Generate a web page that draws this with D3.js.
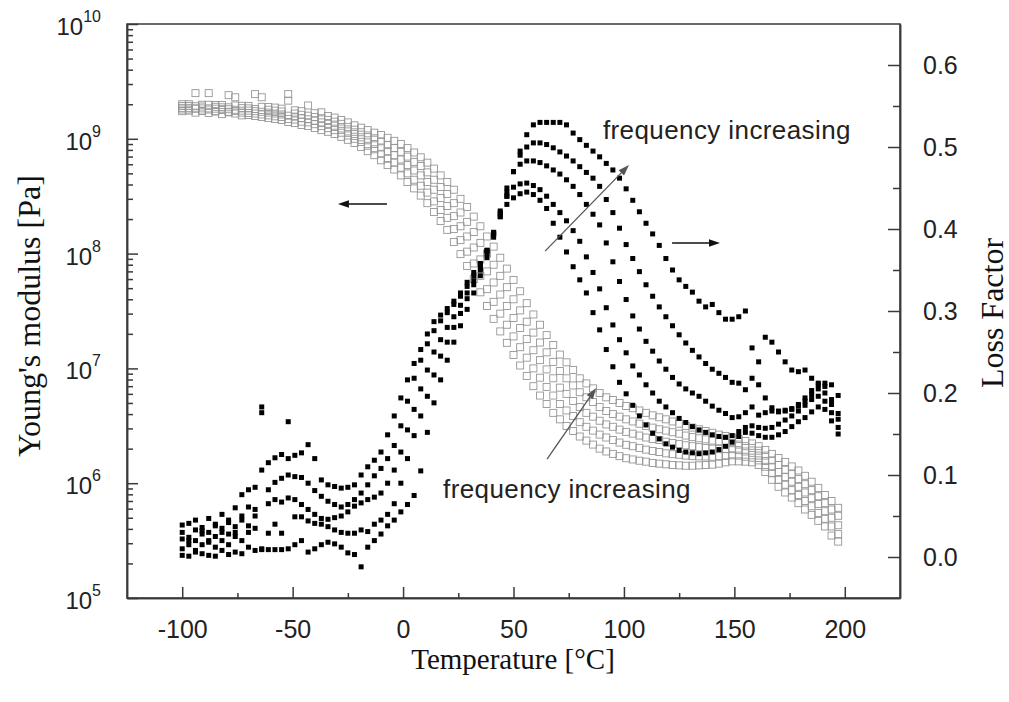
<!DOCTYPE html>
<html>
<head>
<meta charset="utf-8">
<script src="https://cdn.jsdelivr.net/npm/d3@7"></script>
<style>
  html, body { margin: 0; padding: 0; background: #fff; }
  svg { display: block; }
  .num { font-family: "Liberation Sans", Arial, sans-serif; fill: #222; }
  .title { font-family: "Liberation Serif", "Times New Roman", serif; fill: #111; }
</style>
</head>
<body>
<svg id="chart" width="1009" height="702"></svg>
<script>
'use strict';

// temperature grid of the measurement [°C]
const temperature = [
  -100, -97, -94, -91, -88, -85, -82, -79, -76, -73,
  -70, -67, -64, -61, -58, -55, -52, -49, -46, -43,
  -40, -37, -34, -31, -28, -25, -22, -19, -16, -13,
  -10, -7, -4, -1, 2, 5, 8, 11, 14, 17,
  20, 23, 26, 29, 32, 35, 38, 41, 44, 47,
  50, 53, 56, 59, 62, 65, 68, 71, 74, 77,
  80, 83, 86, 89, 92, 95, 98, 101, 104, 107,
  110, 113, 116, 119, 122, 125, 128, 131, 134, 137,
  140, 143, 146, 149, 152, 155, 158, 161, 164, 167,
  170, 173, 176, 179, 182, 185, 188, 191, 194, 197
];

// Young's modulus [Pa], lowest to highest frequency
const modulusF1 = [
  1.74e9, 1.80e9, 1.69e9, 1.75e9, 1.68e9, 1.73e9, 1.64e9, 1.70e9, 1.66e9, 1.60e9,
  1.61e9, 1.58e9, 1.55e9, 1.52e9, 1.49e9, 1.46e9, 1.40e9, 1.37e9, 1.32e9, 1.29e9,
  1.24e9, 1.19e9, 1.15e9, 1.10e9, 1.04e9, 9.8e8, 9.2e8, 8.5e8, 7.8e8, 7.2e8,
  6.5e8, 5.9e8, 5.4e8, 4.8e8, 4.2e8, 3.7e8, 3.2e8, 2.75e8, 2.3e8, 1.92e8,
  1.61e8, 1.26e8, 9.9e7, 7.8e7, 6.0e7, 4.6e7, 3.5e7, 2.7e7, 2.1e7, 1.67e7,
  1.31e7, 1.06e7, 8.6e6, 7.0e6, 5.8e6, 4.9e6, 4.1e6, 3.6e6, 3.15e6, 2.85e6,
  2.55e6, 2.35e6, 2.17e6, 2.0e6, 1.89e6, 1.8e6, 1.72e6, 1.65e6, 1.61e6, 1.57e6,
  1.54e6, 1.5e6, 1.48e6, 1.46e6, 1.44e6, 1.43e6, 1.42e6, 1.42e6, 1.43e6, 1.44e6,
  1.45e6, 1.48e6, 1.52e6, 1.55e6, 1.55e6, 1.54e6, 1.52e6, 1.44e6, 1.25e6, 1.07e6,
  9.3e5, 8.3e5, 7.5e5, 6.7e5, 5.9e5, 5.3e5, 4.7e5, 4.2e5, 3.5e5, 3.1e5
];
const modulusF2 = [
  1.80e9, 1.76e9, 1.83e9, 1.76e9, 1.80e9, 1.74e9, 1.78e9, 1.72e9, 1.75e9, 1.69e9,
  1.68e9, 1.66e9, 1.63e9, 1.60e9, 1.57e9, 1.55e9, 1.49e9, 1.47e9, 1.41e9, 1.39e9,
  1.34e9, 1.29e9, 1.24e9, 1.19e9, 1.13e9, 1.07e9, 1.0e9, 9.4e8, 8.7e8, 8.1e8,
  7.4e8, 6.7e8, 6.2e8, 5.6e8, 5.0e8, 4.4e8, 3.9e8, 3.4e8, 2.85e8, 2.4e8,
  2.05e8, 1.64e8, 1.31e8, 1.04e8, 8.2e7, 6.4e7, 4.9e7, 3.8e7, 3.0e7, 2.4e7,
  1.9e7, 1.53e7, 1.24e7, 1.0e7, 8.3e6, 6.9e6, 5.8e6, 4.9e6, 4.3e6, 3.85e6,
  3.4e6, 3.1e6, 2.87e6, 2.65e6, 2.5e6, 2.38e6, 2.26e6, 2.16e6, 2.1e6, 2.03e6,
  1.96e6, 1.91e6, 1.87e6, 1.82e6, 1.79e6, 1.77e6, 1.74e6, 1.72e6, 1.71e6, 1.71e6,
  1.70e6, 1.72e6, 1.73e6, 1.75e6, 1.74e6, 1.70e6, 1.67e6, 1.58e6, 1.39e6, 1.22e6,
  1.07e6, 9.7e5, 8.7e5, 7.9e5, 7.0e5, 6.3e5, 5.5e5, 4.9e5, 4.2e5, 3.6e5
];
const modulusF3 = [
  1.86e9, 1.86e9, 1.84e9, 1.84e9, 1.84e9, 1.83e9, 1.81e9, 1.81e9, 1.79e9, 1.76e9,
  1.76e9, 1.74e9, 1.72e9, 1.69e9, 1.66e9, 1.63e9, 1.59e9, 1.56e9, 1.51e9, 1.48e9,
  1.44e9, 1.39e9, 1.35e9, 1.30e9, 1.23e9, 1.16e9, 1.10e9, 1.03e9, 9.7e8, 9.0e8,
  8.4e8, 7.8e8, 7.2e8, 6.6e8, 5.9e8, 5.3e8, 4.8e8, 4.2e8, 3.6e8, 3.05e8,
  2.6e8, 2.12e8, 1.73e8, 1.41e8, 1.13e8, 8.9e7, 7.0e7, 5.6e7, 4.4e7, 3.5e7,
  2.75e7, 2.25e7, 1.8e7, 1.44e7, 1.18e7, 9.8e6, 8.2e6, 6.8e6, 6.0e6, 5.2e6,
  4.6e6, 4.1e6, 3.8e6, 3.5e6, 3.25e6, 3.1e6, 2.93e6, 2.8e6, 2.7e6, 2.6e6,
  2.5e6, 2.43e6, 2.38e6, 2.3e6, 2.24e6, 2.19e6, 2.14e6, 2.1e6, 2.06e6, 2.03e6,
  2.0e6, 1.99e6, 1.98e6, 1.98e6, 1.94e6, 1.89e6, 1.84e6, 1.74e6, 1.56e6, 1.39e6,
  1.25e6, 1.13e6, 1.03e6, 9.3e5, 8.3e5, 7.4e5, 6.6e5, 5.7e5, 5.0e5, 4.3e5
];
const modulusF4 = [
  1.93e9, 1.93e9, 1.92e9, 1.91e9, 2.5e9, 1.90e9, 1.88e9, 1.88e9, 2.3e9, 1.85e9,
  1.84e9, 1.82e9, 2.3e9, 1.79e9, 1.76e9, 1.73e9, 2.15e9, 1.66e9, 1.62e9, 1.59e9,
  1.55e9, 1.51e9, 1.46e9, 1.41e9, 1.35e9, 1.27e9, 1.2e9, 1.14e9, 1.07e9, 1.01e9,
  9.5e8, 8.8e8, 8.3e8, 7.7e8, 7.0e8, 6.3e8, 5.8e8, 5.1e8, 4.4e8, 3.8e8,
  3.3e8, 2.75e8, 2.28e8, 1.89e8, 1.54e8, 1.24e8, 1.0e8, 8.0e7, 6.4e7, 5.1e7,
  4.0e7, 3.2e7, 2.55e7, 2.05e7, 1.68e7, 1.38e7, 1.14e7, 9.5e6, 8.2e6, 7.1e6,
  6.2e6, 5.6e6, 5.1e6, 4.6e6, 4.25e6, 4.0e6, 3.8e6, 3.6e6, 3.45e6, 3.3e6,
  3.15e6, 3.05e6, 2.95e6, 2.87e6, 2.78e6, 2.7e6, 2.6e6, 2.52e6, 2.46e6, 2.41e6,
  2.35e6, 2.32e6, 2.28e6, 2.23e6, 2.17e6, 2.1e6, 2.03e6, 1.92e6, 1.74e6, 1.58e6,
  1.44e6, 1.31e6, 1.2e6, 1.09e6, 9.8e5, 8.7e5, 7.7e5, 6.7e5, 5.9e5, 5.2e5
];
const modulusF5 = [
  2.0e9, 2.0e9, 2.5e9, 1.98e9, 1.98e9, 1.97e9, 1.97e9, 2.4e9, 1.95e9, 1.94e9,
  1.93e9, 2.45e9, 1.90e9, 1.89e9, 1.87e9, 1.83e9, 2.45e9, 1.77e9, 1.74e9, 1.95e9,
  1.67e9, 1.7e9, 1.58e9, 1.53e9, 1.46e9, 1.39e9, 1.31e9, 1.25e9, 1.19e9, 1.13e9,
  1.08e9, 1.02e9, 9.6e8, 9.0e8, 8.3e8, 7.6e8, 6.9e8, 6.2e8, 5.5e8, 4.8e8,
  4.2e8, 3.6e8, 3.0e8, 2.55e8, 2.1e8, 1.73e8, 1.41e8, 1.15e8, 9.2e7, 7.4e7,
  5.9e7, 4.7e7, 3.7e7, 2.95e7, 2.4e7, 1.95e7, 1.6e7, 1.32e7, 1.13e7, 9.7e6,
  8.2e6, 7.4e6, 6.7e6, 6.1e6, 5.6e6, 5.3e6, 5.0e6, 4.7e6, 4.5e6, 4.3e6,
  4.1e6, 3.9e6, 3.75e6, 3.6e6, 3.45e6, 3.3e6, 3.15e6, 3.05e6, 2.95e6, 2.85e6,
  2.75e6, 2.65e6, 2.58e6, 2.5e6, 2.42e6, 2.33e6, 2.22e6, 2.1e6, 1.95e6, 1.8e6,
  1.66e6, 1.53e6, 1.4e6, 1.29e6, 1.16e6, 1.03e6, 9.1e5, 7.9e5, 7.0e5, 6.1e5
];

// loss factor, lowest to highest frequency
const lossF1 = [
  0.039, 0.041, 0.033, 0.036, 0.047, 0.040, 0.052, 0.045, 0.060, 0.076,
  0.082, 0.085, 0.106, 0.115, 0.121, 0.125, 0.120, 0.124, 0.127, 0.137,
  0.120, 0.094, 0.088, 0.086, 0.084, 0.085, 0.088, 0.100, 0.110, 0.118,
  0.128, 0.149, 0.172, 0.194, 0.216, 0.236, 0.253, 0.272, 0.287, 0.295,
  0.303, 0.312, 0.322, 0.335, 0.347, 0.358, 0.374, 0.395, 0.415, 0.430,
  0.438, 0.443, 0.445, 0.442, 0.435, 0.425, 0.407, 0.390, 0.372, 0.354,
  0.338, 0.322, 0.298, 0.277, 0.253, 0.232, 0.213, 0.199, 0.185, 0.172,
  0.161, 0.151, 0.144, 0.138, 0.134, 0.130, 0.128, 0.127, 0.126, 0.127,
  0.128, 0.131, 0.135, 0.140, 0.147, 0.152, 0.151, 0.148, 0.146, 0.146,
  0.149, 0.153, 0.159, 0.165, 0.170, 0.177, 0.183, 0.180, 0.166, 0.150
];
const lossF2 = [
  0.030, 0.024, 0.045, 0.028, 0.020, 0.038, 0.030, 0.042, 0.037, 0.050,
  0.061, 0.058, 0.183, 0.082, 0.091, 0.096, 0.100, 0.098, 0.097, 0.090,
  0.081, 0.074, 0.068, 0.064, 0.061, 0.064, 0.070, 0.078, 0.088, 0.099,
  0.108, 0.120, 0.136, 0.160, 0.190, 0.218, 0.240, 0.260, 0.276, 0.288,
  0.298, 0.308, 0.318, 0.330, 0.343, 0.357, 0.374, 0.396, 0.420, 0.440,
  0.451, 0.455, 0.456, 0.453, 0.448, 0.440, 0.430, 0.420, 0.410, 0.398,
  0.385, 0.366, 0.347, 0.327, 0.304, 0.283, 0.265, 0.249, 0.233, 0.222,
  0.210, 0.200, 0.190, 0.183, 0.176, 0.169, 0.164, 0.159, 0.155, 0.152,
  0.149, 0.147, 0.146, 0.148, 0.153, 0.158, 0.160, 0.158, 0.157, 0.158,
  0.162, 0.167, 0.172, 0.178, 0.185, 0.192, 0.196, 0.190, 0.176, 0.158
];
const lossF3 = [
  0.022, 0.015, 0.020, 0.032, 0.018, 0.025, 0.035, 0.028, 0.030, 0.045,
  0.038, 0.050, 0.176, 0.065, 0.070, 0.067, 0.072, 0.070, 0.064, 0.058,
  0.052, 0.047, 0.046, 0.048, 0.050, 0.055, 0.062, 0.066, 0.070, 0.073,
  0.078, 0.090, 0.106, 0.128, 0.155, 0.180, 0.205, 0.228, 0.250, 0.265,
  0.280, 0.293, 0.307, 0.322, 0.337, 0.352, 0.372, 0.395, 0.422, 0.450,
  0.470, 0.479, 0.483, 0.483, 0.481, 0.477, 0.472, 0.467, 0.460, 0.452,
  0.442, 0.430, 0.418, 0.405, 0.383, 0.360, 0.336, 0.314, 0.294, 0.278,
  0.263, 0.251, 0.239, 0.229, 0.219, 0.211, 0.205, 0.200, 0.196, 0.190,
  0.184, 0.179, 0.175, 0.170, 0.171, 0.176, 0.183, 0.173, 0.176, 0.178,
  0.177, 0.178, 0.180, 0.184, 0.190, 0.198, 0.205, 0.200, 0.186, 0.168
];
const lossF4 = [
  0.010, 0.020, 0.008, 0.015, 0.030, 0.012, 0.020, 0.015, 0.025, 0.020,
  0.030, 0.035, 0.010, 0.029, 0.040, 0.029, 0.165, 0.049, 0.049, 0.044,
  0.041, 0.040, 0.037, 0.033, 0.030, 0.029, 0.029, 0.033, 0.031, 0.040,
  0.045, 0.052, 0.065, 0.090, 0.120, 0.148, 0.172, 0.196, 0.222, 0.245,
  0.262, 0.280, 0.297, 0.315, 0.332, 0.350, 0.370, 0.393, 0.418, 0.445,
  0.470, 0.490, 0.500, 0.505, 0.505, 0.503, 0.499, 0.494, 0.489, 0.483,
  0.476, 0.469, 0.462, 0.452, 0.436, 0.420, 0.401, 0.381, 0.364, 0.348,
  0.332, 0.318, 0.305, 0.293, 0.282, 0.271, 0.261, 0.252, 0.244, 0.236,
  0.229, 0.224, 0.219, 0.213, 0.212, 0.204, 0.218, 0.210, 0.194, 0.182,
  0.178, 0.179, 0.181, 0.186, 0.194, 0.203, 0.210, 0.208, 0.192, 0.175
];
const lossF5 = [
  0.002, 0.001, 0.006, 0.004, 0.002, 0.001, 0.008, 0.003, 0.006, 0.004,
  0.012, 0.008, 0.009, 0.009, 0.009, 0.009, 0.010, 0.015, 0.020, 0.006,
  0.010, 0.015, 0.018, 0.016, 0.012, 0.005, 0.003, -0.012, 0.012, 0.020,
  0.028, 0.038, 0.045, 0.055, 0.064, 0.075, 0.105, 0.152, 0.188, 0.216,
  0.240, 0.262, 0.282, 0.302, 0.322, 0.343, 0.365, 0.390, 0.415, 0.440,
  0.470, 0.495, 0.515, 0.527, 0.530, 0.530, 0.530, 0.530, 0.527, 0.517,
  0.509, 0.502, 0.495, 0.488, 0.480, 0.472, 0.462, 0.449, 0.435, 0.421,
  0.407, 0.394, 0.380, 0.364, 0.350, 0.338, 0.330, 0.323, 0.312, 0.305,
  0.308, 0.298, 0.290, 0.290, 0.293, 0.300, 0.255, 0.238, 0.268, 0.262,
  0.250, 0.238, 0.228, 0.226, 0.228, 0.218, 0.212, 0.212, 0.210, 0.197
];

const modulusSeries = [modulusF1, modulusF2, modulusF3, modulusF4, modulusF5];
const lossSeries = [lossF1, lossF2, lossF3, lossF4, lossF5];

// axis ticks
const tempTicks = [-100, -50, 0, 50, 100, 150, 200];
const tempMinorTicks = [-75, -25, 25, 75, 125, 175];
const modulusDecades = [1e5, 1e6, 1e7, 1e8, 1e9, 1e10];
const lossTicks = [0, 0.1, 0.2, 0.3, 0.4, 0.5, 0.6];
const lossMinorTicks = [0.05, 0.15, 0.25, 0.35, 0.45, 0.55];

// annotations, in temperature / loss factor units
const arrows = [
  {from: [-7.3, 0.4305], to: [-29.5, 0.4305], color: '#111', width: 1.4},
  {from: [121.8, 0.383], to: [143.5, 0.383], color: '#111', width: 1.4},
  {from: [64.3, 0.373], to: [102.3, 0.478], color: '#555', width: 1.3},
  {from: [65.2, 0.1195], to: [87.4, 0.206], color: '#555', width: 1.3}
];
const notes = [
  {text: 'frequency increasing', at: [90.5, 0.5098]},
  {text: 'frequency increasing', at: [18.1, 0.072]}
];

const width = 1009, height = 702;
const plot = {left: 127, right: 900, top: 24, bottom: 598};
const axisColor = '#3a3a3a';
const sans = '"Liberation Sans", Arial, sans-serif';

const svg = d3.select('#chart');
svg.append('rect').attr('width', width).attr('height', height).attr('fill', '#fff');

const x = d3.scaleLinear().domain([-125, 225]).range([plot.left, plot.right]);
const yMod = d3.scaleLog().domain([1e5, 1e10]).range([plot.bottom, plot.top]);
const yLoss = d3.scaleLinear().domain([-0.05, 0.65]).range([plot.bottom, plot.top]);

// Young's modulus: open grey squares
const modSize = 7;
const gMod = svg.append('g')
    .attr('fill', 'none')
    .attr('stroke', '#969696')
    .attr('stroke-width', 0.9);
modulusSeries.forEach((series) => {
    gMod.append('g')
        .selectAll('rect')
        .data(temperature.map((t, i) => ({t, v: series[i]})))
        .enter()
        .append('rect')
        .attr('x', (d) => x(d.t) - modSize / 2)
        .attr('y', (d) => yMod(d.v) - modSize / 2)
        .attr('width', modSize)
        .attr('height', modSize);
});

// loss factor: filled black squares
const lossSize = 5;
const gLoss = svg.append('g').attr('fill', '#000');
lossSeries.forEach((series) => {
    gLoss.append('g')
        .selectAll('rect')
        .data(temperature.map((t, i) => ({t, v: series[i]})))
        .enter()
        .append('rect')
        .attr('x', (d) => x(d.t) - lossSize / 2)
        .attr('y', (d) => yLoss(d.v) - lossSize / 2)
        .attr('width', lossSize)
        .attr('height', lossSize);
});

function styleAxis(g) {
    g.selectAll('path, line').attr('stroke', axisColor).attr('stroke-width', 1.5);
    g.selectAll('text')
        .attr('class', 'num')
        .attr('font-family', sans)
        .attr('font-size', 25)
        .attr('fill', '#222');
}

// bottom axis (plain hyphen for negatives, as in the figure)
svg.append('g')
    .attr('transform', `translate(0,${plot.bottom})`)
    .call(d3.axisBottom(x).tickValues(tempTicks).tickSize(-11).tickSizeOuter(0)
        .tickPadding(22).tickFormat((d) => String(d)))
    .call(styleAxis);
svg.append('g')
    .attr('transform', `translate(0,${plot.bottom})`)
    .call(d3.axisBottom(x).tickValues(tempMinorTicks).tickSize(-5).tickSizeOuter(0).tickFormat(''))
    .call(styleAxis);

// left log axis
svg.append('g')
    .attr('transform', `translate(${plot.left},0)`)
    .call(d3.axisLeft(yMod).tickValues(modulusDecades).tickSize(-11).tickSizeOuter(0).tickFormat(''))
    .call(styleAxis);
const minorMod = [];
modulusDecades.slice(0, -1).forEach((d) => d3.range(2, 10).forEach((k) => minorMod.push(d * k)));
svg.append('g')
    .attr('transform', `translate(${plot.left},0)`)
    .call(d3.axisLeft(yMod).tickValues(minorMod).tickSize(-6).tickSizeOuter(0).tickFormat(''))
    .call(styleAxis);

const modLabels = svg.append('g');
modulusDecades.forEach((d) => {
    const t = modLabels.append('text')
        .attr('class', 'num')
        .attr('x', 101)
        .attr('y', yMod(d) + 11)
        .attr('text-anchor', 'end')
        .attr('font-family', sans)
        .attr('font-size', 24)
        .attr('fill', '#222');
    t.append('tspan').text('10');
    t.append('tspan').attr('dy', -13).attr('font-size', 16).text(Math.round(Math.log10(d)));
});

// right loss axis
svg.append('g')
    .attr('transform', `translate(${plot.right},0)`)
    .call(d3.axisRight(yLoss).tickValues(lossTicks).tickSize(-12).tickSizeOuter(0)
        .tickPadding(23).tickFormat(d3.format('.1f')))
    .call(styleAxis);
svg.append('g')
    .attr('transform', `translate(${plot.right},0)`)
    .call(d3.axisRight(yLoss).tickValues(lossMinorTicks).tickSize(-7).tickSizeOuter(0).tickFormat(''))
    .call(styleAxis);

// frame
svg.append('rect')
    .attr('x', plot.left).attr('y', plot.top)
    .attr('width', plot.right - plot.left).attr('height', plot.bottom - plot.top)
    .attr('fill', 'none').attr('stroke', axisColor).attr('stroke-width', 1.5);

// annotations
const gNote = svg.append('g');
arrows.forEach((a) => {
    const x1 = x(a.from[0]), y1 = yLoss(a.from[1]);
    const x2 = x(a.to[0]), y2 = yLoss(a.to[1]);
    const ang = Math.atan2(y2 - y1, x2 - x1);
    const len = 11, half = 3.8;
    const bx = x2 - len * Math.cos(ang), by = y2 - len * Math.sin(ang);
    gNote.append('line')
        .attr('x1', x1).attr('y1', y1).attr('x2', bx).attr('y2', by)
        .attr('stroke', a.color).attr('stroke-width', a.width);
    gNote.append('path')
        .attr('d', `M${x2},${y2}L${bx - half * Math.sin(ang)},${by + half * Math.cos(ang)}` +
            `L${bx + half * Math.sin(ang)},${by - half * Math.cos(ang)}Z`)
        .attr('fill', a.color);
});
notes.forEach((n) => {
    gNote.append('text')
        .attr('class', 'num')
        .attr('x', x(n.at[0]))
        .attr('y', yLoss(n.at[1]))
        .attr('font-family', sans)
        .attr('font-size', 26)
        .attr('letter-spacing', 0.4)
        .attr('fill', '#333')
        .text(n.text);
});

// axis titles
svg.append('text')
    .attr('class', 'title')
    .attr('x', (plot.left + plot.right) / 2 - 0.5)
    .attr('y', 669)
    .attr('text-anchor', 'middle')
    .attr('font-size', 29)
    .text('Temperature [°C]');
svg.append('text')
    .attr('class', 'title')
    .attr('transform', 'translate(40,316) rotate(-90)')
    .attr('text-anchor', 'middle')
    .attr('font-size', 32)
    .text("Young's modulus [Pa]");
svg.append('text')
    .attr('class', 'title')
    .attr('transform', 'translate(1003,313) rotate(-90)')
    .attr('text-anchor', 'middle')
    .attr('font-size', 32)
    .text('Loss Factor');
</script>
</body>
</html>
